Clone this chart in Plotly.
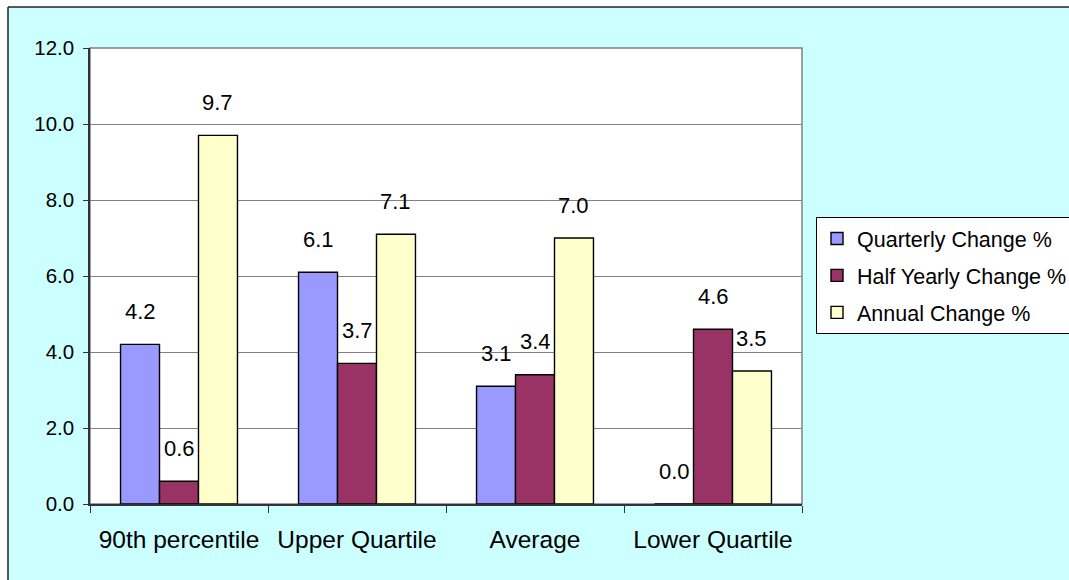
import plotly.graph_objects as go

# Chart data
categories = ["90th percentile", "Upper Quartile", "Average", "Lower Quartile"]
series_names = ["Quarterly Change %", "Half Yearly Change %", "Annual Change %"]
quarterly = [4.2, 6.1, 3.1, 0.0]
half_yearly = [0.6, 3.7, 3.4, 4.6]
annual = [9.7, 7.1, 7.0, 3.5]
y_ticks = [0, 2, 4, 6, 8, 10, 12]

series_values = [quarterly, half_yearly, annual]
colors = ["#9999FF", "#993366", "#FFFFCC"]

FONT = "Liberation Sans, Arial, sans-serif"
W, H = 1069, 580
M_L, M_R, M_T, M_B = 90, 267, 48, 76
BARGAP = 0.343

fig = go.Figure()
for name, vals, col in zip(series_names, series_values, colors):
    fig.add_trace(go.Bar(
        name=name, x=categories, y=vals,
        marker=dict(color=col, line=dict(color="#000000", width=1.4)),
        legendgroup=name,
    ))

# Value labels above each bar
plot_w = W - M_L - M_R
bar_w = plot_w / len(categories) * (1 - BARGAP) / len(series_values)
annotations = []
for i, vals in enumerate(series_values):
    for cat, v in zip(categories, vals):
        annotations.append(dict(
            x=cat, y=v, xref="x", yref="y",
            text=f"{v:.1f}", showarrow=False,
            xshift=(i - 1) * bar_w, yshift=33,
            yanchor="middle", xanchor="center",
            font=dict(family=FONT, size=22, color="#000000"),
        ))

# Pixel -> paper helpers for the outer frame
plot_h = H - M_T - M_B
def px_x(p):
    return (p - M_L) / plot_w
def px_y(p):
    return (H - M_B - p) / plot_h

FRAME_L, FRAME_T = 8, 7
shapes = [
    # white strips outside the chart frame
    dict(type="rect", xref="paper", yref="paper", layer="below",
         x0=px_x(-20), x1=px_x(FRAME_L), y0=px_y(H + 20), y1=px_y(-20),
         fillcolor="#FFFFFF", line=dict(width=0)),
    dict(type="rect", xref="paper", yref="paper", layer="below",
         x0=px_x(-20), x1=px_x(W + 20), y0=px_y(FRAME_T), y1=px_y(-20),
         fillcolor="#FFFFFF", line=dict(width=0)),
    # frame edges (top and left)
    dict(type="line", xref="paper", yref="paper", layer="below",
         x0=px_x(FRAME_L), x1=px_x(W + 20), y0=px_y(FRAME_T), y1=px_y(FRAME_T),
         line=dict(color="#222222", width=1.5)),
    dict(type="line", xref="paper", yref="paper", layer="below",
         x0=px_x(FRAME_L), x1=px_x(FRAME_L), y0=px_y(FRAME_T), y1=px_y(H + 20),
         line=dict(color="#222222", width=1.5)),
    # plot area
    dict(type="rect", xref="paper", yref="paper", layer="below",
         x0=0, x1=1, y0=0, y1=1,
         fillcolor="#FFFFFF", line=dict(color="#808080", width=1.5)),
]

fig.update_layout(
    width=W, height=H,
    margin=dict(l=M_L, r=M_R, t=M_T, b=M_B, pad=0, autoexpand=False),
    paper_bgcolor="#CCFFFF",
    plot_bgcolor="rgba(0,0,0,0)",
    barmode="group", bargap=BARGAP, bargroupgap=0,
    font=dict(family=FONT, color="#000000"),
    shapes=shapes,
    annotations=annotations,
    showlegend=True,
    legend=dict(
        x=px_x(816), y=px_y(217), xanchor="left", yanchor="top",
        bgcolor="#FFFFFF", bordercolor="#000000", borderwidth=1,
        font=dict(family=FONT, size=21.5, color="#000000"),
        traceorder="grouped", tracegroupgap=6, itemwidth=30,
    ),
    xaxis=dict(
        type="category", tickson="boundaries",
        ticks="outside", ticklen=7, tickcolor="#333333",
        showline=True, linecolor="#333333", linewidth=1.5,
        showgrid=False, ticklabelstandoff=13,
        tickfont=dict(family=FONT, size=24.5, color="#000000"),
    ),
    yaxis=dict(
        range=[0, 12], tickvals=y_ticks, tickformat=".1f",
        ticks="outside", ticklen=5, tickcolor="#333333",
        showline=True, linecolor="#333333", linewidth=1.5,
        showgrid=True, gridcolor="#808080", gridwidth=1,
        zeroline=False, ticklabelstandoff=5,
        tickfont=dict(family=FONT, size=20.5, color="#000000"),
    ),
)

fig.write_html("out.html")
